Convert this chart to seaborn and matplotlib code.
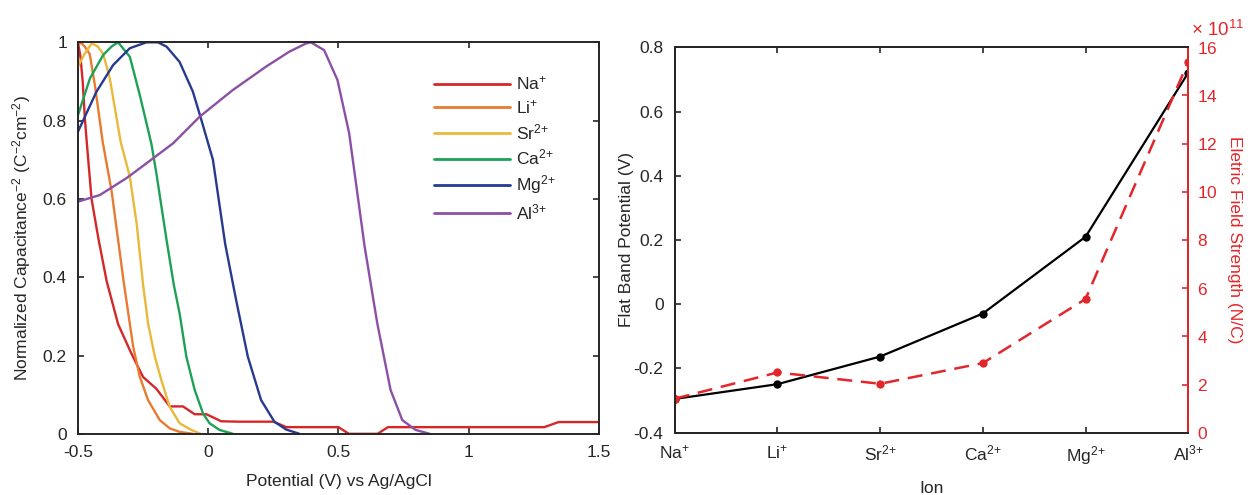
import numpy as np
import pandas as pd
import matplotlib
matplotlib.use('Agg')
import matplotlib.pyplot as plt
import seaborn as sns
from matplotlib.ticker import ScalarFormatter, FormatStrFormatter

# Mott-Schottky curves (normalized)
na_x = [-0.5, -0.49, -0.482, -0.473, -0.467, -0.448, -0.422, -0.39, -0.346, -0.295, -0.25, -0.199,
        -0.148, -0.097, -0.052, -0.007, 0.05, 0.12, 0.25, 0.30, 0.5, 0.54, 0.65, 0.69, 1.29, 1.345, 1.5]
na_y = [1.0, 0.96, 0.90, 0.80, 0.75, 0.60, 0.50, 0.39, 0.28, 0.205, 0.145, 0.115,
        0.07, 0.07, 0.05, 0.05, 0.032, 0.031, 0.031, 0.017, 0.017, 0.0, 0.0, 0.017, 0.017, 0.03, 0.03]
li_x = [-0.5, -0.49, -0.475, -0.455, -0.435, -0.405, -0.371, -0.345, -0.325, -0.307, -0.288, -0.263,
        -0.231, -0.186, -0.148, -0.11, -0.06]
li_y = [0.99, 1.0, 0.99, 0.97, 0.89, 0.745, 0.62, 0.49, 0.39, 0.308, 0.222, 0.146,
        0.086, 0.035, 0.014, 0.005, 0.0]
sr_x = [-0.5, -0.475, -0.448, -0.425, -0.403, -0.378, -0.336, -0.301, -0.275, -0.25, -0.231, -0.205,
        -0.18, -0.148, -0.11, -0.065, -0.03]
sr_y = [0.938, 0.97, 0.997, 0.99, 0.97, 0.908, 0.745, 0.657, 0.538, 0.38, 0.282, 0.197,
        0.137, 0.069, 0.027, 0.01, 0.0]
ca_x = [-0.5, -0.454, -0.403, -0.37, -0.346, -0.301, -0.263, -0.218, -0.199, -0.16, -0.132, -0.11,
        -0.084, -0.052, -0.02, 0.005, 0.043, 0.095]
ca_y = [0.814, 0.908, 0.968, 0.99, 1.0, 0.963, 0.866, 0.74, 0.665, 0.495, 0.38, 0.308,
        0.197, 0.112, 0.052, 0.027, 0.01, 0.0]
mg_x = [-0.5, -0.429, -0.365, -0.301, -0.237, -0.193, -0.16, -0.11, -0.059, -0.03, 0.018, 0.065,
        0.107, 0.152, 0.203, 0.254, 0.299, 0.35]
mg_y = [0.772, 0.874, 0.942, 0.985, 1.0, 1.0, 0.989, 0.95, 0.874, 0.81, 0.70, 0.485,
        0.342, 0.197, 0.086, 0.031, 0.011, 0.0]
al_x = [-0.5, -0.416, -0.314, -0.237, -0.135, -0.033, 0.094, 0.222, 0.311, 0.375, 0.394, 0.445,
        0.496, 0.541, 0.60, 0.649, 0.70, 0.745, 0.796, 0.85]
al_y = [0.593, 0.61, 0.653, 0.691, 0.742, 0.81, 0.878, 0.938, 0.976, 0.997, 1.0, 0.98,
        0.904, 0.768, 0.48, 0.282, 0.112, 0.035, 0.01, 0.0]

ions = ['Na$^{+}$', 'Li$^{+}$', 'Sr$^{2{+}}$', 'Ca$^{2{+}}$', 'Mg$^{2{+}}$', 'Al$^{3{+}}$']
colors = ['#d62728', '#e97a2f', '#e9b93a', '#1ea157', '#263a8f', '#8c4fa6']

# flat band potential and electric field strength per ion
flat_band = [-0.295, -0.249, -0.163, -0.029, 0.21, 0.721]
e_field = [1.41e11, 2.5e11, 2.03e11, 2.89e11, 5.55e11, 15.4e11]

curves = [(na_x, na_y), (li_x, li_y), (sr_x, sr_y), (ca_x, ca_y), (mg_x, mg_y), (al_x, al_y)]
frames = []
for ion, (cx, cy) in zip(ions, curves):
    frames.append(pd.DataFrame({'potential': cx, 'cap': cy, 'ion': ion}))
df = pd.concat(frames, ignore_index=True)

sns.set_style('ticks')
plt.rcParams['font.family'] = ['Liberation Sans', 'DejaVu Sans']
plt.rcParams['mathtext.fontset'] = 'custom'
plt.rcParams['mathtext.rm'] = 'Liberation Sans'
plt.rcParams['mathtext.it'] = 'Liberation Sans:italic'
plt.rcParams['mathtext.bf'] = 'Liberation Sans:bold'
fs = 12.5

fig = plt.figure(figsize=(12.52, 4.95), dpi=100)
ax1 = fig.add_axes([0.0623, 0.1236, 0.4161, 0.7909])
ax2 = fig.add_axes([0.5389, 0.1259, 0.4102, 0.7786])

# left panel
sns.lineplot(data=df, x='potential', y='cap', hue='ion', hue_order=ions,
             palette=colors, estimator=None, sort=False, lw=1.7, ax=ax1)
ax1.set_xlim(-0.5, 1.5)
ax1.set_ylim(0, 1)
ax1.set_xticks([-0.5, 0, 0.5, 1, 1.5])
ax1.set_yticks([0, 0.2, 0.4, 0.6, 0.8, 1])
ax1.xaxis.set_major_formatter(FormatStrFormatter('%g'))
ax1.yaxis.set_major_formatter(FormatStrFormatter('%g'))
ax1.set_xlabel('Potential (V) vs Ag/AgCl', fontsize=fs, labelpad=10)
ax1.set_ylabel('Normalized Capacitance$^{-2}$ (C$^{-2}$cm$^{-2}$)', fontsize=fs, labelpad=7)
ax1.tick_params(direction='in', top=True, right=True, labelsize=fs, length=4, width=1.2)
ax1.tick_params(axis='x', pad=8)
ax1.tick_params(axis='y', pad=8)
leg = ax1.legend(loc='upper left', bbox_to_anchor=(0.67, 0.935), frameon=False,
                 fontsize=fs, handlelength=4.4, handletextpad=0.35, labelspacing=0.33,
                 borderaxespad=0)
for line in leg.get_lines():
    line.set_linewidth(2)

# right panel
pos = np.arange(1, len(ions) + 1)
sns.lineplot(x=pos, y=flat_band, color='black', marker='o', markersize=6,
             markeredgewidth=0, lw=1.6, ax=ax2)
ax2.set_xlim(1, 6)
ax2.set_ylim(-0.4, 0.8)
ax2.set_xticks(pos)
ax2.set_xticklabels(ions)
ax2.set_yticks(np.arange(-0.4, 0.81, 0.2))
ax2.yaxis.set_major_formatter(FormatStrFormatter('%g'))
ax2.set_xlabel('Ion', fontsize=fs, labelpad=10)
ax2.set_ylabel('Flat Band Potential (V)', fontsize=fs, labelpad=0)
ax2.tick_params(direction='in', top=True, labelsize=fs, length=4, width=1.2)
ax2.tick_params(axis='x', pad=8)
ax2.tick_params(axis='y', pad=8)

red = '#e3262a'
ax3 = ax2.twinx()
sns.lineplot(x=pos, y=e_field, color=red, marker='o', markersize=6,
             markeredgewidth=0, lw=1.8, ax=ax3)
ax3.lines[0].set_dashes((6, 3.5))
ax3.set_ylim(0, 16e11)
ax3.set_yticks(np.arange(0, 16.1e11, 2e11))
fmt = ScalarFormatter(useMathText=True)
fmt.set_powerlimits((11, 11))
ax3.yaxis.set_major_formatter(fmt)
ax3.yaxis.get_offset_text().set_visible(False)
ax3.text(1.005, 1.02, r'$\times\ 10^{11}$', transform=ax3.transAxes, color=red,
         fontsize=fs + 1, ha='left', va='bottom')
ax3.set_ylabel('Eletric Field Strength (N/C)', color=red, fontsize=fs, rotation=270, labelpad=18)
ax3.tick_params(axis='y', direction='in', colors=red, labelsize=fs, length=4, width=1.2, pad=6)

for a in (ax1, ax2, ax3):
    for s in a.spines.values():
        s.set_linewidth(1.4)
ax3.spines['right'].set_color(red)

fig.savefig('out.png', dpi=100)
